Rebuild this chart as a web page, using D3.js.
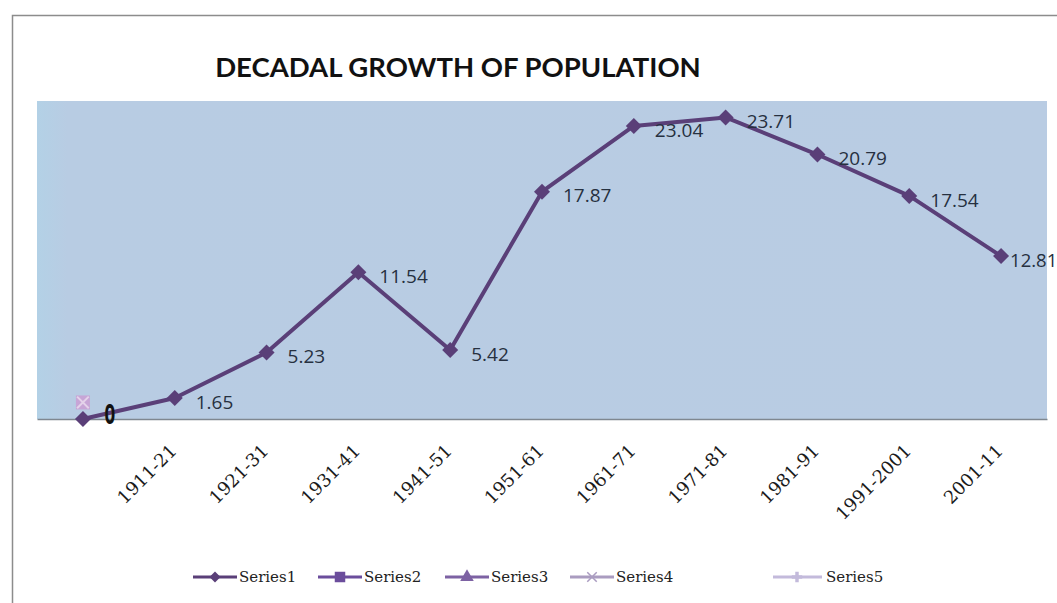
<!DOCTYPE html>
<html>
<head>
<meta charset="utf-8">
<script src="https://cdnjs.cloudflare.com/ajax/libs/d3/7.8.5/d3.min.js"></script>
<style>
	body { margin: 0; background: #fff; }
	svg { display: block; }
</style>
</head>
<body>
<script>
var W = 1057, H = 603;
var title = "DECADAL GROWTH OF POPULATION";
var categories = ["", "1911-21", "1921-31", "1931-41", "1941-51", "1951-61", "1961-71", "1971-81", "1981-91", "1991-2001", "2001-11"];
var series1 = [0, 1.65, 5.23, 11.54, 5.42, 17.87, 23.04, 23.71, 20.79, 17.54, 12.81];
// series 2..5 only have a point at the first (blank) category
var extraValues = [1.3, 1.3, 1.3, 1.3];
var zeroLabel = "0";
var seriesNames = ["Series1", "Series2", "Series3", "Series4", "Series5"];
var yDomain = [0, 25];

// styles //{{{
var gg = {
	Series1: { c: "#5a3f78", m: "diamond" },
	Series2: { c: "#6b4d9c", m: "square" },
	Series3: { c: "#7d62a3", m: "triangle" },
	Series4: { c: "#aa9cc0", m: "x" },
	Series5: { c: "#c3badb", m: "star" }
};
var plot = { x0: 37, x1: 1047, y0: 101, y1: 419 };
//}}}

var svg = d3.select("body").append("svg").attr("width", W).attr("height", H);

// frame + background //{{{
svg.append("rect").attr("width", W).attr("height", H).attr("fill", "#fff");
svg.append("path")
	.attr("d", "M12.5," + H + " L12.5,15.5 L" + W + ",15.5")
	.attr("fill", "none").attr("stroke", "#8c8c8c").attr("stroke-width", 1.5);

var defs = svg.append("defs");
var grad = defs.append("linearGradient").attr("id", "bg").attr("x1", "0").attr("x2", "1");
grad.append("stop").attr("offset", "0").attr("stop-color", "#b3d1e6");
grad.append("stop").attr("offset", "0.03").attr("stop-color", "#b8cce3");
grad.append("stop").attr("offset", "1").attr("stop-color", "#b9cce3");

svg.append("rect")
	.attr("x", plot.x0).attr("y", plot.y0)
	.attr("width", plot.x1 - plot.x0).attr("height", plot.y1 - plot.y0)
	.attr("fill", "url(#bg)");
//}}}

// scales //{{{
var x = d3.scaleBand().domain(categories).range([plot.x0, plot.x1]).padding(0);
var y = d3.scaleLinear().domain(yDomain).range([plot.y1, plot.y0]);
function cx(c) { return x(c) + x.bandwidth() / 2; }
function diamond(r) { return "M0," + (-r) + "L" + r + ",0L0," + r + "L" + (-r) + ",0Z"; }
//}}}

// title //{{{
svg.append("text")
	.attr("x", 458).attr("y", 77)
	.attr("text-anchor", "middle")
	.attr("font-family", "Lato, 'Open Sans', sans-serif")
	.attr("font-weight", "bold")
	.attr("font-size", 27.5)
	.attr("fill", "#111")
	.text(title);
//}}}

// x axis //{{{
var xAxis = d3.axisBottom(x).tickSize(0).tickFormat(function(d) { return d; });
var gx = svg.append("g").attr("transform", "translate(0," + plot.y1 + ")").call(xAxis);
gx.select(".domain").attr("stroke", "#7f8790").attr("stroke-width", 1.5);
gx.selectAll(".tick text")
	.attr("font-family", "'DejaVu Serif', serif")
	.attr("font-size", 18)
	.attr("fill", "#1a1a1a")
	.attr("text-anchor", "end")
	.attr("dy", null)
	.attr("y", 0)
	.attr("transform", "translate(3,33) rotate(-45)");
//}}}

// markers //{{{
function marker(sel, type, size, color) {
	if (type == "diamond") {
		sel.append("path").attr("d", diamond(5.5)).attr("fill", color);
	} else if (type == "x") {
		sel.append("path").attr("d", d3.symbol().type(d3.symbolX).size(size)())
			.attr("fill", "none").attr("stroke", color).attr("stroke-width", 1.5);
	} else {
		var sym = { square: d3.symbolSquare, triangle: d3.symbolTriangle, star: d3.symbolCross }[type];
		sel.append("path").attr("d", d3.symbol().type(sym).size(size)()).attr("fill", color);
	}
}
//}}}

// series 2..5 at first category //{{{
var g0 = svg.append("g").attr("transform", "translate(" + cx(categories[0]) + "," + y(extraValues[0]) + ")");
g0.append("rect").attr("x", -7).attr("y", -7).attr("width", 14).attr("height", 14).attr("fill", "#c7a5d6");
g0.append("path").attr("d", d3.symbol().type(d3.symbolX).size(90)()).attr("fill", "none").attr("stroke", "#e4d2ea").attr("stroke-width", 2);
//}}}

// series1 line //{{{
var line = d3.line().x(function(d, i) { return cx(categories[i]); }).y(function(d) { return y(d); });
svg.append("path").datum(series1)
	.attr("d", line)
	.attr("fill", "none")
	.attr("stroke", gg.Series1.c)
	.attr("stroke-width", 4)
	.attr("stroke-linejoin", "round");

svg.selectAll(".pt").data(series1).enter().append("path")
	.attr("class", "pt")
	.attr("transform", function(d, i) { return "translate(" + cx(categories[i]) + "," + y(d) + ")"; })
	.attr("d", diamond(8))
	.attr("fill", gg.Series1.c);
//}}}

// data labels //{{{
var last = series1.length - 2;
svg.selectAll(".lbl").data(series1.slice(1)).enter().append("text")
	.attr("class", "lbl")
	.attr("x", function(d, i) { return cx(categories[i + 1]) + (i == last ? 9 : 21); })
	.attr("y", function(d) { return y(d) + 4; })
	.attr("dy", "0.35em")
	.attr("font-family", "'Open Sans', sans-serif")
	.attr("font-size", function(d, i) { return i == last ? 18.5 : 19; })
	.attr("fill", "#263040")
	.text(function(d) { return d.toFixed(2); });

// the zero labels of all five series are drawn on top of each other: one tall outlined "0"
svg.append("text")
	.attr("transform", "translate(" + (cx(categories[0]) + 27) + ",423) scale(1,1.45)")
	.attr("text-anchor", "middle")
	.attr("font-family", "'Open Sans', sans-serif")
	.attr("font-size", 17)
	.attr("fill", "#f4f4f4")
	.attr("stroke", "#111")
	.attr("stroke-width", 1.4)
	.text(zeroLabel);
//}}}

// legend //{{{
var legX = [193, 318, 445, 570, 773];
var leg = svg.selectAll(".leg").data(seriesNames).enter().append("g")
	.attr("class", "leg")
	.attr("transform", function(d, i) { return "translate(" + legX[i] + ",577)"; });
leg.append("line").attr("x1", 0).attr("x2", function(d, i) { return i == 4 ? 49 : 44; })
	.attr("stroke", function(d) { return gg[d].c; }).attr("stroke-width", 3);
leg.each(function(d, i) {
	var m = d3.select(this).append("g").attr("transform", "translate(" + (i == 4 ? 24 : 22) + ",0)");
	var size = { diamond: 70, square: 110, triangle: 80, x: 60, star: 60 }[gg[d].m];
	marker(m, gg[d].m, size, gg[d].c);
});
leg.append("text")
	.attr("x", function(d, i) { return i == 4 ? 53 : 46; })
	.attr("dy", "0.35em")
	.attr("font-family", "'DejaVu Serif', serif")
	.attr("font-size", 15)
	.attr("fill", "#222")
	.text(function(d) { return d; });
//}}}
</script>
</body>
</html>
